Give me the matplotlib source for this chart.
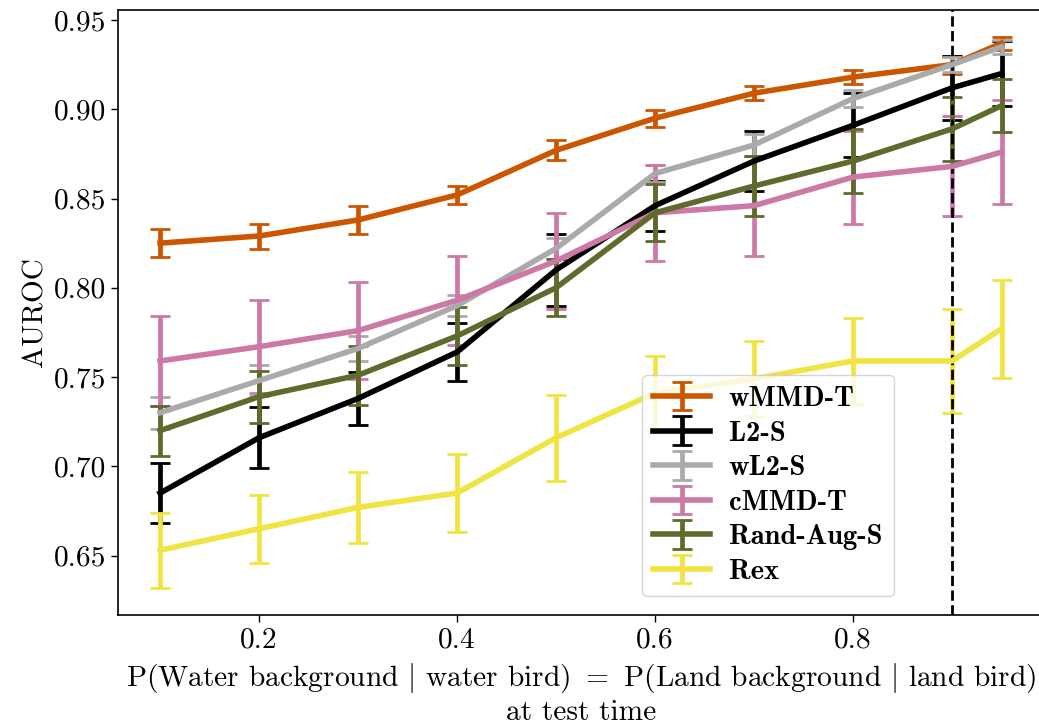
import matplotlib
matplotlib.use("Agg")
import matplotlib.pyplot as plt
from matplotlib.font_manager import FontProperties

# ---- data ----
x = [0.1, 0.2, 0.3, 0.4, 0.5, 0.6, 0.7, 0.8, 0.9, 0.95]

wmmd = [0.825, 0.829, 0.838, 0.852, 0.877, 0.895, 0.909, 0.918, 0.925, 0.937]
wmmd_err = [0.008, 0.007, 0.008, 0.005, 0.0057, 0.0047, 0.004, 0.004, 0.005, 0.0037]

l2 = [0.685, 0.716, 0.738, 0.764, 0.810, 0.846, 0.871, 0.891, 0.912, 0.920]
l2_err = [0.017, 0.017, 0.015, 0.016, 0.020, 0.014, 0.017, 0.018, 0.018, 0.018]

wl2 = [0.730, 0.748, 0.766, 0.790, 0.822, 0.864, 0.880, 0.906, 0.925, 0.935]
wl2_err = [0.009, 0.0085, 0.007, 0.006, 0.006, 0.005, 0.006, 0.005, 0.004, 0.004]

cmmd = [0.759, 0.767, 0.776, 0.793, 0.815, 0.842, 0.846, 0.862, 0.868, 0.876]
cmmd_err = [0.025, 0.026, 0.027, 0.025, 0.027, 0.027, 0.028, 0.026, 0.028, 0.029]

rand = [0.720, 0.739, 0.751, 0.773, 0.800, 0.842, 0.857, 0.871, 0.889, 0.902]
rand_err = [0.014, 0.0145, 0.0165, 0.016, 0.016, 0.016, 0.017, 0.018, 0.018, 0.015]

rex = [0.653, 0.665, 0.677, 0.685, 0.716, 0.741, 0.749, 0.759, 0.759, 0.777]
rex_err = [0.021, 0.019, 0.020, 0.022, 0.024, 0.021, 0.021, 0.024, 0.029, 0.0275]

labels = ["wMMD-T", "L2-S", "wL2-S", "cMMD-T", "Rand-Aug-S", "Rex"]
colors = ["#CC5500", "#000000", "#AAAAAA", "#CC79A7", "#5F6B2C", "#F0E442"]
vline_x = 0.9

# ---- style ----
plt.rcParams['font.family'] = ['cmr10', 'DejaVu Serif']
plt.rcParams['mathtext.fontset'] = 'cm'
plt.rcParams['axes.formatter.use_mathtext'] = True

fig = plt.figure(figsize=(10.39, 7.28), dpi=100)
ax = fig.add_axes([118 / 1039, 1 - 615 / 728, (1043.6 - 118) / 1039, 605 / 728])

series = [(wmmd, wmmd_err), (l2, l2_err), (wl2, wl2_err),
          (cmmd, cmmd_err), (rand, rand_err), (rex, rex_err)]
for (vals, errs), lab, col in zip(series, labels, colors):
    ax.errorbar(x, vals, yerr=errs, label=lab, color=col, lw=4,
                elinewidth=3.4, capsize=7.5, capthick=2.0)

ax.axvline(vline_x, color='black', ls='--', lw=2)

ax.set_xlim(0.0575, 0.9925)
ax.set_ylim(0.6167, 0.9556)
ax.set_xticks([0.2, 0.4, 0.6, 0.8])
ax.set_xticklabels(["0.2", "0.4", "0.6", "0.8"])
ax.set_yticks([0.65, 0.70, 0.75, 0.80, 0.85, 0.90, 0.95])
ax.set_yticklabels(["0.65", "0.70", "0.75", "0.80", "0.85", "0.90", "0.95"])
ax.tick_params(labelsize=21.2, length=5, width=1)
for s in ax.spines.values():
    s.set_linewidth(1.2)

ax.set_ylabel("AUROC", fontsize=21.2)
ax.set_xlabel("P(Water background $|$ water bird) $=$ P(Land background $|$ land bird)\nat test time",
              fontsize=21.2, labelpad=6, linespacing=1.2)

ax.legend(loc='lower left', bbox_to_anchor=(0.566, 0.031), borderaxespad=0,
          prop=FontProperties(family='cmb10', size=20.5), handlelength=2.0,
          handletextpad=0.65, labelspacing=0.3, framealpha=0.8,
          edgecolor='#cccccc', fancybox=True)

fig.savefig("out.png", dpi=100)
